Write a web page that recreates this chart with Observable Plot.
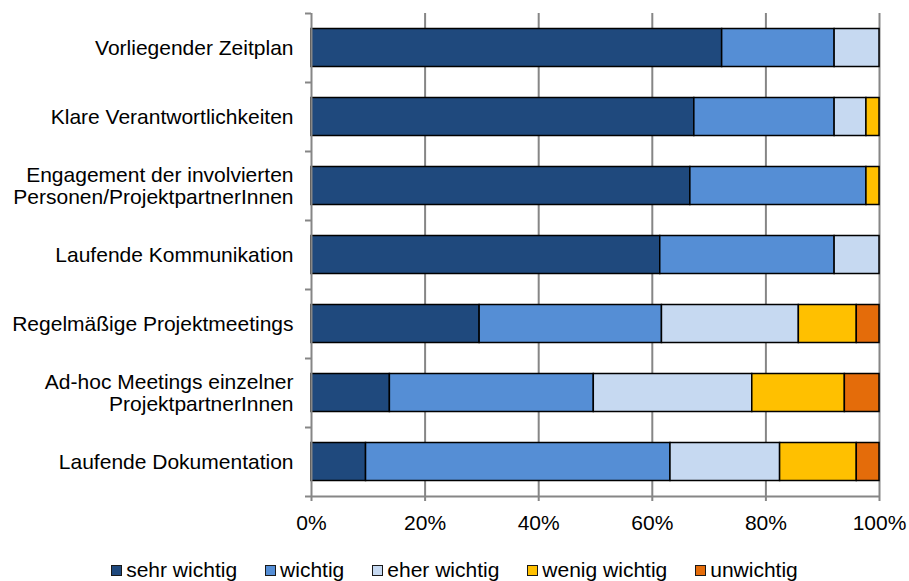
<!DOCTYPE html>
<html>
<head>
<meta charset="utf-8">
<script src="https://cdn.jsdelivr.net/npm/d3@7"></script>
<script src="https://cdn.jsdelivr.net/npm/@observablehq/plot@0.6"></script>
<style>
  html, body { margin: 0; padding: 0; background: #fff; }
  #chart { width: 909px; }
  .legend { display: flex; justify-content: center; align-items: center; font-family: "Liberation Sans", Arial, sans-serif; font-size: 21px; color: #000; height: 50px; }
  .legend .item { display: flex; align-items: center; margin: 0 14px; }
  .legend .sw { box-sizing: border-box; width: 11px; height: 11px; border: 1.5px solid #1a1a1a; margin-right: 4px; }
</style>
</head>
<body>
<div id="chart"></div>
<script>
const categories = [
  "Vorliegender Zeitplan",
  "Klare Verantwortlichkeiten",
  "Engagement der involvierten\nPersonen/ProjektpartnerInnen",
  "Laufende Kommunikation",
  "Regelmäßige Projektmeetings",
  "Ad-hoc Meetings einzelner\nProjektpartnerInnen",
  "Laufende Dokumentation"
];
const seriesNames = ["sehr wichtig", "wichtig", "eher wichtig", "wenig wichtig", "unwichtig"];
const seriesColors = ["#1F497D", "#558ED5", "#C6D9F1", "#FFC000", "#E46C0A"];
// percent per category, in series order
const sehrWichtig  = [72.3, 67.4, 66.7, 61.4, 29.6, 13.8,  9.6];
const wichtig      = [19.8, 24.7, 31.0, 30.7, 32.1, 35.9, 53.6];
const eherWichtig  = [ 7.9,  5.6,  0.0,  7.9, 24.1, 27.9, 19.3];
const wenigWichtig = [ 0.0,  2.3,  2.3,  0.0, 10.2, 16.3, 13.5];
const unwichtig    = [ 0.0,  0.0,  0.0,  0.0,  4.0,  6.1,  4.0];
const xTicks = [0, 20, 40, 60, 80, 100];

const seriesValues = [sehrWichtig, wichtig, eherWichtig, wenigWichtig, unwichtig];
const data = [];
categories.forEach((c, i) => {
  seriesNames.forEach((s, j) => {
    const v = seriesValues[j][i];
    if (v > 0) data.push({category: c, series: s, value: v});
  });
});

const W = 909, H = 545, mTop = 13, mBottom = 49;
const band = (H - mTop - mBottom) / categories.length;
const gray = "#868686";

const chart = Plot.plot({
  width: W,
  height: H,
  marginLeft: 311,
  marginRight: 30,
  marginTop: mTop,
  marginBottom: mBottom,
  style: {fontFamily: "'Liberation Sans', Arial, sans-serif", fontSize: "21px", color: "#000", background: "#fff"},
  x: {domain: [0, 100], axis: null},
  y: {domain: categories, padding: 0, axis: null},
  color: {domain: seriesNames, range: seriesColors},
  marks: [
    Plot.ruleX(xTicks.slice(1), {stroke: gray, strokeWidth: 2}),
    Plot.barX(data, Plot.stackX({
      x: "value", y: "category", fill: "series",
      order: seriesNames,
      stroke: "#000", strokeWidth: 1.5,
      insetTop: 15.5, insetBottom: 15.5
    })),
    Plot.ruleX([0], {stroke: gray, strokeWidth: 2}),
    Plot.ruleY([categories[categories.length - 1]], {x1: 0, x2: 100, dy: band / 2, stroke: gray, strokeWidth: 2}),
    Plot.ruleY(categories, {x1: 0, x2: 0, insetLeft: -6, dy: -band / 2, stroke: gray, strokeWidth: 2}),
    Plot.ruleY([categories[categories.length - 1]], {x1: 0, x2: 0, insetLeft: -6, dy: band / 2, stroke: gray, strokeWidth: 2}),
    Plot.axisX({ticks: xTicks, tickFormat: d => d + "%", tickSize: 5, tickPadding: 14, stroke: gray, strokeWidth: 2, fontSize: 21, fill: "#000", label: null}),
    Plot.axisY({tickSize: 0, tickPadding: 18, fontSize: 21, fill: "#000", lineHeight: 1.05, label: null})
  ]
});
document.getElementById("chart").appendChild(chart);

const legend = document.createElement("div");
legend.className = "legend";
seriesNames.forEach((s, i) => {
  const item = document.createElement("div");
  item.className = "item";
  const sw = document.createElement("span");
  sw.className = "sw";
  sw.style.background = seriesColors[i];
  const t = document.createElement("span");
  t.textContent = s;
  item.appendChild(sw);
  item.appendChild(t);
  legend.appendChild(item);
});
document.getElementById("chart").appendChild(legend);
</script>
</body>
</html>
